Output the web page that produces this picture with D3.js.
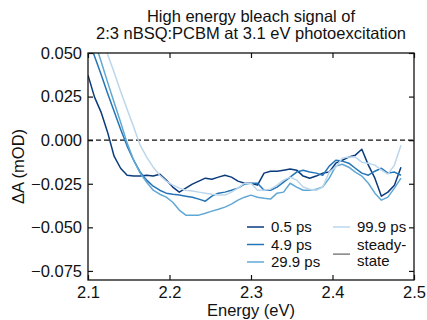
<!DOCTYPE html>
<html lang="en">
	<head><meta charset="UTF-8">
		<script type="text/javascript" src="https://d3js.org/d3.v7.min.js"></script>
		<title>High energy bleach signal</title>
		<style>
			body { margin: 0; background: white; }
			text { font-family: "Liberation Sans", Arial, sans-serif; fill: #111; }
		</style>
	</head>
	<body>
		<svg id="vis" width="427" height="320"></svg>
		<script>
		// energies (eV), shared by every trace
		var energy = d3.range(49).map(function(i){ return +(2.100 + 0.008*i).toFixed(3); });

		// delta A (mOD)
		var ps0_5 = [0.0373, 0.0247, 0.0161, 0.0046, -0.0092, -0.0161, -0.0201, -0.0206, -0.0206, -0.0201,
			-0.0206, -0.0195, -0.0229, -0.0269, -0.0298, -0.0275, -0.0252, -0.0235, -0.0218, -0.0224,
			-0.0212, -0.0201, -0.0212, -0.0235, -0.0247, -0.0247, -0.0258, -0.0189, -0.0178, -0.0178,
			-0.0172, -0.0166, -0.0172, -0.0206, -0.0218, -0.0206, -0.0189, -0.0183, -0.0132, -0.0115,
			-0.0097, -0.0086, -0.0052, -0.0143, -0.0218, -0.0321, -0.0298, -0.0258, -0.0155];
		var ps4_9 = [0.0585, 0.0482, 0.0378, 0.0269, 0.0166, 0.0063, -0.0034, -0.0115, -0.0183, -0.0229,
			-0.0264, -0.0287, -0.0304, -0.0310, -0.0315, -0.0321, -0.0327, -0.0338, -0.0350, -0.0321,
			-0.0304, -0.0298, -0.0287, -0.0275, -0.0252, -0.0247, -0.0247, -0.0287, -0.0287, -0.0269,
			-0.0241, -0.0212, -0.0183, -0.0172, -0.0183, -0.0189, -0.0201, -0.0149, -0.0115, -0.0120,
			-0.0132, -0.0161, -0.0189, -0.0201, -0.0178, -0.0161, -0.0189, -0.0183, -0.0201];
		var ps29_9 = [0.0682, 0.0568, 0.0453, 0.0333, 0.0218, 0.0103, -0.0017, -0.0115, -0.0189, -0.0241,
			-0.0287, -0.0310, -0.0327, -0.0356, -0.0401, -0.0430, -0.0430, -0.0430, -0.0419, -0.0407,
			-0.0396, -0.0384, -0.0367, -0.0344, -0.0327, -0.0315, -0.0327, -0.0333, -0.0338, -0.0304,
			-0.0298, -0.0247, -0.0269, -0.0287, -0.0287, -0.0281, -0.0269, -0.0218, -0.0149, -0.0138,
			-0.0155, -0.0183, -0.0206, -0.0247, -0.0304, -0.0344, -0.0327, -0.0275, -0.0218];
		var ps99_9 = [0.0814, 0.0711, 0.0602, 0.0493, 0.0390, 0.0281, 0.0178, 0.0075, -0.0029, -0.0097,
			-0.0155, -0.0201, -0.0235, -0.0258, -0.0275, -0.0287, -0.0292, -0.0298, -0.0304, -0.0310,
			-0.0315, -0.0315, -0.0298, -0.0275, -0.0247, -0.0247, -0.0287, -0.0287, -0.0281, -0.0258,
			-0.0229, -0.0212, -0.0229, -0.0269, -0.0281, -0.0287, -0.0269, -0.0183, -0.0155, -0.0103,
			-0.0097, -0.0097, -0.0126, -0.0132, -0.0143, -0.0172, -0.0195, -0.0143, -0.0029];
		var steadyState = []; // only shows up in the legend

		var seriesNames = ["0.5 ps", "4.9 ps", "29.9 ps", "99.9 ps", "steady-state"];
		var seriesValues = [ps0_5, ps4_9, ps29_9, ps99_9, steadyState];
		var colors = ["#0b3b7c", "#2474b7", "#60a8d4", "#bcd6ec", "#808080"];

		var xTicks = [2.1, 2.2, 2.3, 2.4, 2.5];
		var yTicks = [-0.075, -0.05, -0.025, 0, 0.025, 0.05];

		// plot box (don't call these top/left: window.top is read-only)
		var pL = 88, pR = 414, pT = 53, pB = 280;

		var scaleX = d3.scaleLinear().domain([2.1, 2.5]).range([pL, pR]);
		var scaleY = d3.scaleLinear().domain([-0.0802, 0.05]).range([pB, pT]);

		var svg = d3.select("#vis");

		svg.append("clipPath").attr("id", "clip")
			.append("rect").attr("x", pL).attr("y", pT)
			.attr("width", pR-pL).attr("height", pB-pT);

		// zero line
		svg.append("line")
			.attr("x1", pL).attr("x2", pR)
			.attr("y1", scaleY(0)).attr("y2", scaleY(0))
			.attr("stroke", "#111").attr("stroke-width", 1.3)
			.attr("stroke-dasharray", "5,3");

		var line = d3.line()
			.x(function(d){ return scaleX(d[0]); })
			.y(function(d){ return scaleY(d[1]); });

		var gLines = svg.append("g").attr("clip-path", "url(#clip)");
		for (var k = 0; k < seriesValues.length; k++) {
			if (seriesValues[k].length == 0) continue;
			var pts = d3.zip(energy, seriesValues[k]);
			gLines.append("path")
				.attr("d", line(pts))
				.attr("fill", "none")
				.attr("stroke", colors[k])
				.attr("stroke-width", 1.5)
				.attr("stroke-linejoin", "round");
		}

		// axes, ticks pointing inward on all four sides
		var fmt = function(d){ return d3.format(".3f")(d).replace("-", "\u2212"); };
		var gx = svg.append("g").attr("transform", "translate(0," + pB + ")")
			.call(d3.axisBottom(scaleX).tickValues(xTicks).tickSizeInner(-5).tickSizeOuter(0).tickPadding(6).tickFormat(d3.format(".1f")));
		var gxTop = svg.append("g").attr("transform", "translate(0," + pT + ")")
			.call(d3.axisTop(scaleX).tickValues(xTicks).tickSizeInner(-5).tickSizeOuter(0).tickFormat(""));
		var gy = svg.append("g").attr("transform", "translate(" + pL + ",0)")
			.call(d3.axisLeft(scaleY).tickValues(yTicks).tickSizeInner(-5).tickSizeOuter(0).tickPadding(6).tickFormat(fmt));
		var gyRight = svg.append("g").attr("transform", "translate(" + pR + ",0)")
			.call(d3.axisRight(scaleY).tickValues(yTicks).tickSizeInner(-5).tickSizeOuter(0).tickFormat(""));

		[gx, gxTop, gy, gyRight].forEach(function(g){
			g.select(".domain").remove();
			g.selectAll(".tick line").attr("stroke", "#111").attr("stroke-width", 1.2);
			g.selectAll("text").attr("font-size", 16.5).attr("fill", "#111")
				.attr("font-family", "'Liberation Sans', Arial, sans-serif");
		});

		svg.append("rect")
			.attr("x", pL).attr("y", pT)
			.attr("width", pR-pL).attr("height", pB-pT)
			.attr("fill", "none").attr("stroke", "#111").attr("stroke-width", 1.3);

		// labels
		svg.append("text").attr("x", (pL+pR)/2).attr("y", 316)
			.attr("text-anchor", "middle").attr("font-size", 16.5).text("Energy (eV)");
		svg.append("text")
			.attr("transform", "translate(24," + ((pT+pB)/2) + ") rotate(-90)")
			.attr("text-anchor", "middle").attr("font-size", 16.5).text("\u0394A (mOD)");
		svg.append("text").attr("x", (pL+pR)/2).attr("y", 22)
			.attr("text-anchor", "middle").attr("font-size", 16.5).text("High energy bleach signal of");
		svg.append("text").attr("x", (pL+pR)/2).attr("y", 39)
			.attr("text-anchor", "middle").attr("font-size", 16.5).text("2:3 nBSQ:PCBM at 3.1 eV photoexcitation");

		// legend, two columns
		var legendX = [247, 333];
		var legendY = 227;
		var slots = [[0,0],[0,1],[0,2],[1,0],[1,1.55]];
		var gLeg = svg.append("g");
		for (var k = 0; k < seriesNames.length; k++) {
			var lx = legendX[slots[k][0]];
			var ly = legendY + slots[k][1]*17.5;
			gLeg.append("line").attr("x1", lx).attr("x2", lx+17)
				.attr("y1", ly).attr("y2", ly)
				.attr("stroke", colors[k]).attr("stroke-width", 1.5);
			if (k == 4) {
				gLeg.append("text").attr("x", lx+24).attr("y", ly-4).attr("font-size", 15).text("steady-");
				gLeg.append("text").attr("x", lx+24).attr("y", ly+12).attr("font-size", 15).text("state");
			} else {
				gLeg.append("text").attr("x", lx+24).attr("y", ly+5).attr("font-size", 15).text(seriesNames[k]);
			}
		}
		</script>
	</body>
</html>
